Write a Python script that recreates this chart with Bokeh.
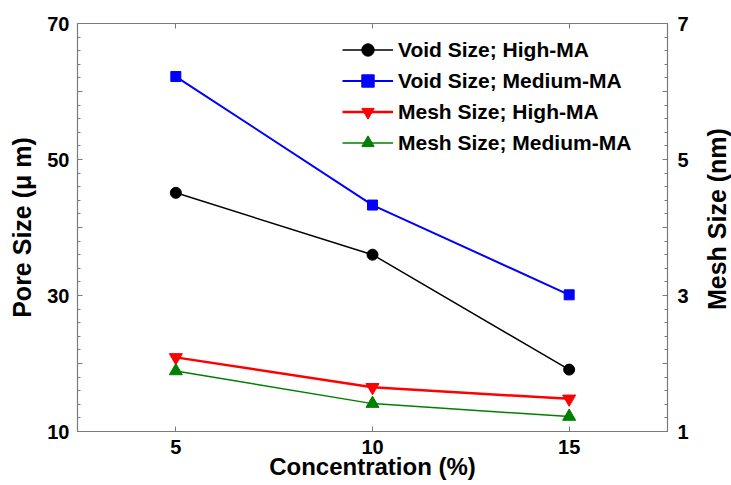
import math
from bokeh.plotting import figure
from bokeh.layouts import row
from bokeh.models import (LinearAxis, Range1d, FixedTicker, Legend, Label)
from bokeh.embed import file_html
from bokeh.resources import INLINE

# ---- data ----
concentration = [5, 10, 15]
void_high_ma = [45.1, 36.0, 19.1]
void_medium_ma = [62.2, 43.3, 30.1]
mesh_high_ma = [2.09, 1.65, 1.48]
mesh_medium_ma = [1.89, 1.41, 1.22]

x_ticks = [5, 10, 15]
left_major = [10, 20, 30, 40, 50, 60, 70]
left_labels = {20: "", 40: "", 60: ""}
left_minor = [v for v in range(10, 71, 2) if v % 10 != 0]
right_major = [1, 2, 3, 4, 5, 6, 7]
right_labels = {2: "", 4: "", 6: ""}
right_minor = [round(1 + 0.2 * i, 1) for i in range(31) if i % 5 != 0]

FONT = "Liberation Sans"
GREY = "#7a7a7a"

p = figure(width=700, height=485, output_backend="svg", toolbar_location=None,
           x_range=Range1d(2.5, 17.5), y_range=Range1d(10, 70),
           min_border_left=77, min_border_right=33, min_border_top=23,
           min_border_bottom=54, x_axis_location=None, y_axis_location=None)
p.extra_y_ranges = {"mesh": Range1d(1, 7)}
p.xgrid.visible = False
p.ygrid.visible = False
p.outline_line_color = GREY
p.outline_line_width = 1.2
p.background_fill_color = "white"
p.border_fill_color = "white"


def style_axis(ax, standoff):
    ax.axis_line_color = GREY
    ax.major_tick_line_color = GREY
    ax.minor_tick_line_color = GREY
    ax.major_tick_in = 5
    ax.major_tick_out = 0
    ax.minor_tick_in = 3
    ax.minor_tick_out = 0
    ax.major_label_standoff = standoff
    ax.major_label_text_font = FONT
    ax.major_label_text_font_style = "bold"
    ax.major_label_text_font_size = "20px"
    ax.major_label_text_color = "black"
    ax.axis_label_text_font = FONT
    ax.axis_label_text_font_style = "bold"
    ax.axis_label_text_font_size = "25px"
    ax.axis_label_text_color = "black"


bottom = LinearAxis(ticker=FixedTicker(ticks=x_ticks, minor_ticks=[]),
                    axis_label="Concentration (%)")
style_axis(bottom, 8)
bottom.axis_label_text_font_size = "24px"
bottom.axis_label_standoff = -4
p.add_layout(bottom, "below")

top = LinearAxis(ticker=FixedTicker(ticks=x_ticks, minor_ticks=[]),
                 major_label_overrides={5: "", 10: "", 15: ""})
style_axis(top, 0)
p.add_layout(top, "above")

left = LinearAxis(ticker=FixedTicker(ticks=left_major, minor_ticks=left_minor),
                  major_label_overrides=left_labels,
                  axis_label="Pore Size (\u03bc m)")
style_axis(left, 8)
left.axis_label_standoff = 8
p.add_layout(left, "left")

right = LinearAxis(y_range_name="mesh",
                   ticker=FixedTicker(ticks=right_major, minor_ticks=right_minor),
                   major_label_overrides=right_labels)
style_axis(right, 10)
p.add_layout(right, "right")

# ---- series ----
r1l = p.line(concentration, void_high_ma, color="black", line_width=1.5)
r1m = p.scatter(concentration, void_high_ma, marker="circle", size=11,
                color="black")
r2l = p.line(concentration, void_medium_ma, color="#0000ff", line_width=2)
r2m = p.scatter(concentration, void_medium_ma, marker="square", size=10,
                color="#0000ff")
r3l = p.line(concentration, mesh_high_ma, color="#ff0000", line_width=2.5,
             y_range_name="mesh")
r3m = p.scatter(concentration, mesh_high_ma, marker="inverted_triangle", size=13,
                color="#ff0000", y_range_name="mesh")
r4l = p.line(concentration, mesh_medium_ma, color="#008000", line_width=1.5,
             y_range_name="mesh")
r4m = p.scatter(concentration, mesh_medium_ma, marker="triangle", size=13,
                color="#008000", y_range_name="mesh")

legend = Legend(items=[
    ("Void Size; High-MA", [r1l, r1m]),
    ("Void Size; Medium-MA", [r2l, r2m]),
    ("Mesh Size; High-MA", [r3l, r3m]),
    ("Mesh Size; Medium-MA", [r4l, r4m]),
], location=(265, 273))
legend.border_line_color = None
legend.background_fill_alpha = 0
legend.padding = 0
legend.margin = 0
legend.spacing = 0
legend.label_height = 31
legend.glyph_height = 31
legend.glyph_width = 51
legend.label_standoff = 5
legend.label_text_font = FONT
legend.label_text_font_style = "bold"
legend.label_text_font_size = "21px"
legend.label_text_color = "black"
p.add_layout(legend, "center")

# ---- right-hand axis title (reads bottom-to-top) in a narrow strip ----
side = figure(width=31, height=485, output_backend="svg", toolbar_location=None,
              x_range=Range1d(0, 31), y_range=Range1d(0, 485),
              min_border=0, x_axis_location=None, y_axis_location=None)
side.xgrid.visible = False
side.ygrid.visible = False
side.outline_line_color = None
side.border_fill_color = "white"
side.add_layout(Label(x=16, y=252.5, text="Mesh Size (nm)", angle=math.pi / 2,
                      text_align="center", text_baseline="middle",
                      text_font=FONT, text_font_style="bold",
                      text_font_size="25px", text_color="black"))

layout = row(p, side, spacing=0)
open("out.html", "w").write(file_html(layout, INLINE))
